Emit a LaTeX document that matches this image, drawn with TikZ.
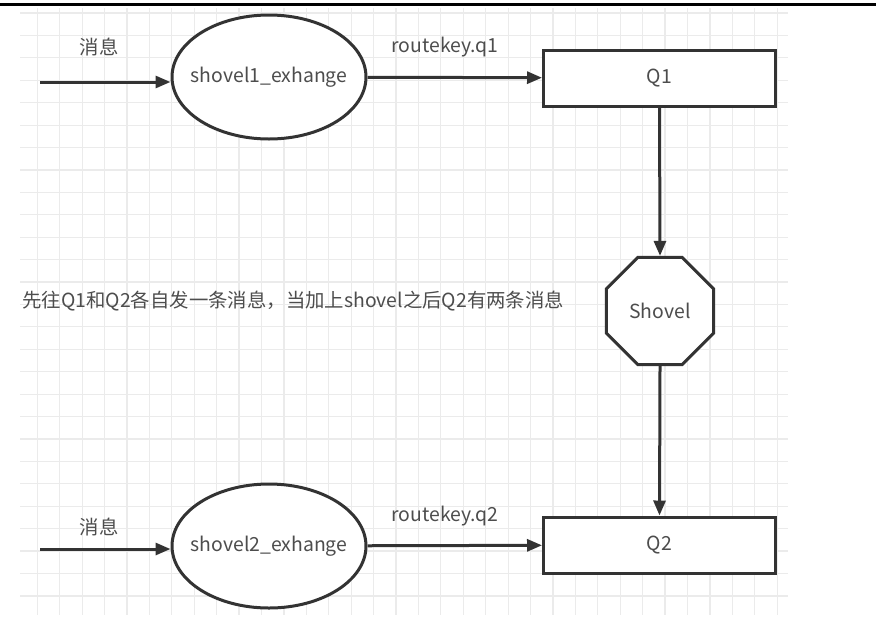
\documentclass[tikz,border=0pt]{standalone}
\usepackage{fontspec}
\setmainfont{Noto Sans CJK SC}
\usetikzlibrary{shapes.geometric,arrows.meta}
\definecolor{linegray}{HTML}{333333}
\definecolor{textgray}{HTML}{4D4D4D}
\definecolor{gridgray}{HTML}{EBEBEB}
\tikzset{
    exchange/.style={draw=linegray, ellipse, line width=1.5pt, fill=white,
        minimum width=97pt, minimum height=62pt, inner xsep=-6pt, inner ysep=0pt, text=textgray},
    queue/.style={draw=linegray, rectangle, line width=1.5pt, fill=white,
        minimum width=116pt, minimum height=28pt, text=textgray},
    shovelbox/.style={draw=linegray, regular polygon, regular polygon sides=8,
        line width=1.5pt, fill=white, minimum size=58pt, inner sep=0pt, text=textgray},
    flow/.style={draw=linegray, line width=1.5pt, -{Triangle[length=7.5pt,width=6pt]}},
    lbl/.style={text=textgray}
}

\begin{document}
\begin{tikzpicture}[x=0.5pt, y=-0.5pt, font=\fontsize{9.7}{12}\selectfont]
      \useasboundingbox (0,0) rectangle (876,643);
      % background grid
      \foreach \i in {0,...,33}
        \draw[gridgray, line width=0.6pt] ({37.3+22.42*\i},8) -- ({37.3+22.42*\i},615);
      \foreach \j in {0,...,26}
        \draw[gridgray, line width=0.6pt] (20,{13+22.42*\j}) -- (788,{13+22.42*\j});
      \draw[black, line width=1.5pt] (0,4.5) -- (876,4.5);

      \node[exchange] (ex1) at (269,77) {shovel1\_exhange};
      \node[exchange] (ex2) at (269,546) {shovel2\_exhange};
      \node[queue] (q1) at (659.5,78) {Q1};
      \node[queue] (q2) at (659.5,545) {Q2};
      \node[shovelbox] (sh) at (660,311) {Shovel};

      \coordinate (in1) at (40,82);
      \coordinate (in2) at (40,549);
      \draw[flow] (in1) -- (in1 -| ex1.west);
      \draw[flow] (in2) -- (in2 -| ex2.west);
      \draw[flow] (ex1) -- (q1);
      \draw[flow] (ex2) -- (q2);
      \draw[flow] (q1.south) -- (sh.north);
      \draw[flow] (sh.south) -- (q2.north);

      \node[lbl] (msg1) at (99,47) {消息};
      \node[lbl] (msg2) at (99,527) {消息};
      \node[lbl] (key1) at (445,47) {routekey.q1};
      \node[lbl] (key2) at (445,516) {routekey.q2};
      \node[lbl, anchor=west, inner sep=0pt] (note) at (22,301)
        {先往Q1和Q2各自发一条消息，当加上shovel之后Q2有两条消息};
    \end{tikzpicture}
\end{document}
